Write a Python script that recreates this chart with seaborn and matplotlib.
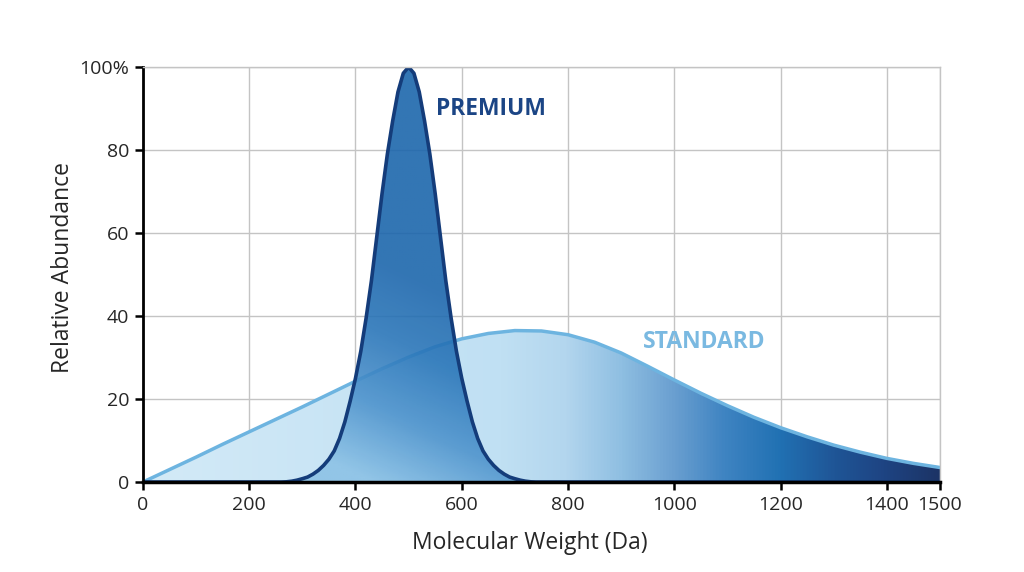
import numpy as np
import seaborn as sns
import matplotlib.pyplot as plt
from matplotlib.colors import LinearSegmentedColormap

# values (relative abundance, %)
mw_standard = [0, 50, 100, 150, 200, 250, 300, 350, 400, 450, 500, 550, 600, 650, 700,
               750, 800, 850, 900, 950, 1000, 1050, 1100, 1150, 1200, 1250, 1300, 1350,
               1400, 1450, 1500]
abund_standard = [0, 3, 6, 9.1, 12.1, 15.1, 18.1, 21.2, 24.3, 27.3, 30.1, 32.6, 34.5, 35.8, 36.5,
                  36.4, 35.5, 33.7, 31.1, 27.9, 24.6, 21.4, 18.4, 15.6, 13.1, 10.9, 8.9, 7.2,
                  5.7, 4.5, 3.5]

mw_premium = [0, 250, 260, 270, 280, 290, 300, 310, 320, 330, 340, 350, 360, 370, 380,
              390, 400, 410, 420, 430, 440, 450, 460, 470, 480, 490, 500, 510, 520, 530,
              540, 550, 560, 570, 580, 590, 600, 610, 620, 630, 640, 650, 660, 670, 680,
              690, 700, 710, 720, 730, 740, 750, 1500]
abund_premium = [0, 0, 0, 0.05, 0.2, 0.45, 0.8, 1.2, 1.9, 2.8, 4, 5.5, 7.5, 10.5, 14.5,
                 19.5, 25, 31.5, 39.5, 48.5, 59, 69.5, 79, 87, 94, 98.5, 100, 98.5, 94, 87,
                 79, 69.5, 59, 48.5, 39.5, 31.5, 25, 19.5, 14.5, 10.5, 7.5, 5.5, 4, 2.8, 1.9,
                 1.2, 0.8, 0.45, 0.2, 0.05, 0, 0, 0]

x_ticks = [0, 200, 400, 600, 800, 1000, 1200, 1400, 1500]
y_ticks = [0, 20, 40, 60, 80, 100]
y_ticklabels = ["0", "20", "40", "60", "80", "100%"]

sns.set_style("white")
plt.rcParams['font.family'] = ['Open Sans', 'DejaVu Sans']

fig = plt.figure(figsize=(10.24, 5.72), dpi=100)
ax = fig.add_axes([0.1396, 0.1573, 0.7783, 0.7255])

# standard: horizontal gradient fill clipped to the curve
std_cmap = LinearSegmentedColormap.from_list(
    "std", [(0.0, "#d3eaf7"), (0.45, "#c0e0f3"), (0.53, "#b3d6ee"), (0.6, "#8fbfe2"),
            (0.667, "#6a9fd0"), (0.73, "#3f84c2"), (0.8, "#2171b3"), (0.87, "#1f5596"),
            (0.93, "#1e4483"), (1.0, "#1c3466")])
grad = np.linspace(0, 1, 512).reshape(1, -1)
im = ax.imshow(grad, extent=[0, 1500, 0, 100], aspect='auto', cmap=std_cmap,
               origin='lower', zorder=1)
poly = ax.fill_between(mw_standard, abund_standard, 0, color='none', lw=0)
im.set_clip_path(poly.get_paths()[0], transform=ax.transData)
sns.lineplot(x=mw_standard, y=abund_standard, ax=ax, color="#6db4e0", lw=2.5,
             sort=False, estimator=None, zorder=2)

# premium: mostly vertical gradient, darker at top
prem_cmap = LinearSegmentedColormap.from_list(
    "prem", ["#8cc2e6", "#4f94cd", "#2a76b9", "#1c66ac"])
yy, xx = np.mgrid[0:100:200j, 0:1500:300j]
t = np.clip(yy / 55 + (xx - 430) / 900, 0, 1)
im2 = ax.imshow(t, extent=[0, 1500, 0, 100], aspect='auto', cmap=prem_cmap,
                origin='lower', zorder=3, alpha=0.9)
poly2 = ax.fill_between(mw_premium, abund_premium, 0, color='none', lw=0)
im2.set_clip_path(poly2.get_paths()[0], transform=ax.transData)
sns.lineplot(x=mw_premium, y=abund_premium, ax=ax, color="#143c7a", lw=2.6,
             sort=False, estimator=None, zorder=4)

ax.text(655, 90, "PREMIUM", color="#1b4585", fontsize=16.5, fontweight='bold',
        ha='center', va='center', zorder=5)
ax.text(1056, 33.7, "STANDARD", color="#7ab9e1", fontsize=16.5, fontweight='bold',
        ha='center', va='center', zorder=5)

ax.set_xlim(0, 1500)
ax.set_ylim(0, 100)
ax.set_xticks(x_ticks)
ax.set_yticks(y_ticks)
ax.set_yticklabels(y_ticklabels)
ax.grid(True, color="#c4c4c4", lw=1)
ax.set_axisbelow(True)
ax.tick_params(axis='both', direction='out', length=6, width=1.8, color='black',
               labelsize=14, pad=4, left=True, bottom=True)
for side in ['top', 'right']:
    ax.spines[side].set_color("#c4c4c4")
    ax.spines[side].set_linewidth(1)
ax.spines['left'].set_color('black')
ax.spines['left'].set_linewidth(2)
ax.spines['bottom'].set_color('black')
ax.spines['bottom'].set_linewidth(2.5)
for sp in ax.spines.values():
    sp.set_zorder(6)

ax.set_xlabel("Molecular Weight (Da)", fontsize=16.5, labelpad=12, x=0.486)
ax.set_ylabel("Relative Abundance", fontsize=16.5, labelpad=3, y=0.518)

fig.savefig("out.png", dpi=100, facecolor='white')
